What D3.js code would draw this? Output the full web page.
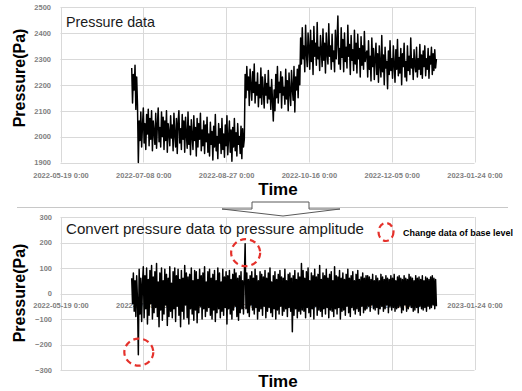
<!DOCTYPE html>
<html><head><meta charset="utf-8">
<script src="https://cdn.jsdelivr.net/npm/d3@7"></script>
<style>body{margin:0;background:#fff}svg{display:block;font-family:"Liberation Sans",Arial,sans-serif}</style>
</head><body><svg id="c" width="522" height="391"></svg>
<script>
// ---- data ----
const xTickLabels = ["2022-05-19 0:00","2022-07-08 0:00","2022-08-27 0:00","2022-10-16 0:00","2022-12-05 0:00","2023-01-24 0:00"];
const topYTicks = [1900,2000,2100,2200,2300,2400,2500];
const ampYTicks = [-300,-200,-100,0,100,200,300];
const seriesStart = "2022-07-01 0:00";
const stepHours = 12;
const pressure = [
2265,2130,2240,2180,2275,2105,2230,2120,
1900,
2060,1985,2095,1960,2040,2110,1975,2050,1950,2085,
2010,2105,1965,2070,1990,2100,1945,2060,2020,1970,
2090,1955,2045,2110,1980,2035,1960,2095,2000,2075,
1950,2060,1985,2100,1940,2050,2015,1965,2080,1995,
2045,1945,2090,2005,1960,2070,1935,2055,2100,1975,
2030,1950,2085,1990,2060,1940,2075,2010,1955,2095,
1970,2040,1930,2065,2000,1950,2080,1985,2035,1925,
2070,1960,2050,1990,2090,1945,2025,1965,2060,1935,
2045,1980,2075,1940,2010,
1925,2055,1970,2020,1910,2040,1960,2085,1945,2000,
1915,2050,1975,2030,1935,2070,1950,2010,1920,2045,
1965,2080,1930,1995,2060,1940,2025,1905,2035,1960,
2070,1945,2015,1925,2050,1970,2000,1935,2040,1915,
2030,1960,1990,
2240,2150,2270,2180,2230,2120,2260,2195,2140,2250,
2170,2280,2130,2210,2160,2245,2115,2200,2150,2265,
2125,2230,2175,2110,2240,2160,2205,2130,2255,2145,
2190,2105,2220,2140,
2060,2180,2100,2240,2150,2270,2130,2210,2170,2250,
2110,2230,2160,2190,2125,2260,2145,2215,2100,2245,
2170,2120,2255,2185,2140,2270,2095,2230,2180,2260,
2150,2275,2200,
2380,2280,2420,2300,2350,2250,2430,2320,2270,2400,
2340,2260,2410,2290,2370,2240,2425,2310,2360,2275,
2440,2300,2345,2255,2390,2330,2270,2415,2295,2360,
2245,2400,2320,2280,2435,2310,2350,2260,2395,2290,
2330,2250,2410,2300,2370,2465,2280,2340,2260,2420,
2305,2375,2250,2400,2290,2345,2265,2430,2310,2355,
2240,2390,2295,2335,2255,2410,2280,2360,2245,2395,
2300,2340,2230,2385,2275,2350,2260,2405,2290,2320,
2330,2230,2370,2260,2310,2215,2380,2270,2340,2220,
2300,2360,2240,2320,2210,2350,2275,2230,2390,2250,
2315,2200,2345,2265,2290,2185,2330,2240,2370,2255,
2300,2225,2350,2280,2210,2335,2260,2375,2235,2305,
2245,2340,2200,2320,2270,2360,2230,2290,2215,2350,
2255,2310,2240,2380,2265,2300,2220,2335,2275,2250,
2345,2230,2300,2260,2355,2240,2315,2225,2330,2270,
2350,2235,2300,2260,2340,2225,2310,2280,2345,2240,
2320,2255,2335,2265,2300
];
const amplitude = [
60,-40,80,-70,50,-90,70,-30,
-240,
95,-80,60,-110,40,105,-95,70,-60,100,
-120,55,-85,90,-40,110,-100,65,-75,85,
-55,118,-90,45,-130,80,-65,100,-105,50,
-80,95,-45,75,-125,60,-90,105,-70,40,
-95,85,-60,100,-110,70,-50,95,-85,55,
-130,90,-70,60,-100,110,-45,80,-95,65,
-120,75,-60,100,-80,50,-105,90,-65,85,
-115,55,-75,95,-50,70,-100,80,-60,105,
-90,45,-70,85,-55,
95,-85,60,-100,75,-65,90,-110,50,-75,
100,-60,80,-95,45,-70,95,-85,65,-55,
85,-120,70,-60,90,-80,55,-100,75,-65,
95,-50,80,-90,60,-105,70,-75,85,-60,
50,-80,65,
195,
-60,80,-75,55,-90,70,-45,85,-65,60,
-80,95,-55,70,-100,50,-70,85,-60,75,
-85,65,-50,90,-95,60,-70,80,-55,100,
-75,45,-90,70,-60,85,-100,55,-65,75,
-80,90,-50,65,-85,60,-70,95,-60,50,
-90,75,-55,80,-70,60,-150,70,-85,90,
-60,55,-95,80,-70,65,
-80,118,-65,90,-70,60,-95,85,-55,100,
-75,50,-90,80,-60,70,-100,95,-50,65,
-85,75,-65,110,-70,55,-90,80,-60,70,
-80,95,-55,60,-95,75,-65,85,-70,50,
-90,105,-60,70,-80,65,-55,90,-100,60,
-70,80,-65,55,-85,75,-50,95,-75,60,
-90,70,-55,85,-65,50,-80,75,-60,90,
-70,55,-85,65,-50,80,-75,60,-65,70,
-60,70,-50,65,-70,55,-45,75,-60,50,
-65,70,-55,60,-80,50,-60,75,-50,65,
-70,55,-60,70,-45,60,-75,55,-50,70,
-65,60,-55,75,-70,50,-60,65,-55,70,
-50,60,-75,55,-65,70,-45,60,-70,55,
-60,75,-50,65,-55,60,-70,50,-65,70,
-55,60,-75,65,-50,55,-60,70,-65,50,
-55,65,-70,60,-50,55,-60,65,-55,70,
-45,60,-60,55,-50
];
// annotated base-level changes: [index, value of circle centre]
const baseChanges = [[137, 160], [8, -230]];

// ---- helpers ----
const parse = d3.utcParse("%Y-%m-%d %H:%M");
const tickDates = xTickLabels.map(parse);
const t0 = parse(seriesStart);
const times = pressure.map((_, i) => d3.utcHour.offset(t0, i * stepHours));

const svg = d3.select("#c");
const grid = "#d9d9d9", tickColor = "#7f7f7f";

function panel(cfg) {
  const x = d3.scaleUtc().domain([tickDates[0], tickDates[tickDates.length - 1]]).range([60.5, 474.5]);
  const y = d3.scaleLinear().domain(cfg.yDomain).range(cfg.yRange);
  const g = svg.append("g");
  g.selectAll(".hg").data(cfg.yTicks).join("line")
    .attr("x1", x.range()[0]).attr("x2", x.range()[1])
    .attr("y1", d => Math.round(y(d)) + 0.5).attr("y2", d => Math.round(y(d)) + 0.5)
    .attr("stroke", grid).attr("stroke-width", 1);
  g.selectAll(".vg").data(tickDates).join("line")
    .attr("x1", d => Math.round(x(d)) + 0.5).attr("x2", d => Math.round(x(d)) + 0.5)
    .attr("y1", cfg.yRange[1]).attr("y2", cfg.yRange[0])
    .attr("stroke", grid).attr("stroke-width", 1);
  const yAxis = d3.axisLeft(y).tickValues(cfg.yTicks).tickSize(0).tickPadding(0).tickFormat(d3.format("d"));
  const ya = g.append("g").attr("transform", `translate(${cfg.yLabelX},0)`).call(yAxis);
  ya.select(".domain").remove();
  ya.selectAll("text").attr("fill", tickColor).attr("font-size", 7.5).attr("font-weight", "bold");
  const xAxis = d3.axisBottom(x).tickValues(tickDates).tickSize(0).tickPadding(0)
    .tickFormat((d, i) => xTickLabels[i]);
  const xa = g.append("g").attr("transform", `translate(0,${cfg.xLabelY})`).call(xAxis);
  xa.select(".domain").remove();
  xa.selectAll("text").attr("fill", tickColor).attr("font-size", 7.5).attr("font-weight", "bold")
    .attr("dy", "0.35em").attr("y", 0);
  const line = d3.line().x((d, i) => x(times[i])).y(d => y(d));
  g.append("path").datum(cfg.values).attr("d", line)
    .attr("fill", "none").attr("stroke", "#000").attr("stroke-width", 1.5).attr("stroke-linejoin", "round");
  g.append("text").attr("x", 66).attr("y", cfg.titleY).text(cfg.title)
    .attr("font-size", 15).attr("fill", "#1a1a1a").attr("textLength", cfg.titleLen).attr("lengthAdjust", "spacingAndGlyphs");
  g.append("text").attr("x", 278).attr("y", cfg.timeY).attr("text-anchor", "middle")
    .attr("font-size", 17).attr("font-weight", "bold").text("Time");
  g.append("text").attr("transform", `translate(25,${cfg.ylabCY}) rotate(-90)`).attr("text-anchor", "middle")
    .attr("font-size", 16).attr("font-weight", "bold").text("Pressure(Pa)");
  return {x, y, g};
}

panel({values: pressure, yDomain: [1900, 2500], yRange: [162.5, 7], yTicks: topYTicks,
  yLabelX: 51, xLabelY: 175, title: "Pressure data", titleY: 27, titleLen: 89,
  timeY: 195, ylabCY: 78});

svg.append("line").attr("x1", 17).attr("x2", 508).attr("y1", 207.5).attr("y2", 207.5)
  .attr("stroke", "#c8c8c8").attr("stroke-width", 1);
svg.append("polygon")
  .attr("points", "252,202 309,202 309,209 340,209 283,216 222,209 252,209")
  .attr("fill", "#fff").attr("stroke", "#595959").attr("stroke-width", 1);

const P2 = panel({values: amplitude, yDomain: [-300, 300], yRange: [370, 217], yTicks: ampYTicks,
  yLabelX: 52, xLabelY: 305, title: "Convert pressure data to pressure amplitude", titleY: 234, titleLen: 298,
  timeY: 387, ylabCY: 293});

const red = "#e5312b";
svg.selectAll(".bc").data(baseChanges).join("ellipse")
  .attr("cx", d => P2.x(times[d[0]]) + 0.5).attr("cy", d => P2.y(d[1]))
  .attr("rx", 14.5).attr("ry", 13.5)
  .attr("fill", "none").attr("stroke", red).attr("stroke-width", 2.2).attr("stroke-dasharray", "6,4");
svg.append("ellipse").attr("cx", 386).attr("cy", 232).attr("rx", 7.5).attr("ry", 9)
  .attr("fill", "none").attr("stroke", red).attr("stroke-width", 2.2).attr("stroke-dasharray", "6,4");
svg.append("text").attr("x", 403).attr("y", 235.5).attr("font-size", 9.5).attr("font-weight", "bold")
  .attr("textLength", 110).attr("lengthAdjust", "spacingAndGlyphs").text("Change data of base level");
</script></body></html>
